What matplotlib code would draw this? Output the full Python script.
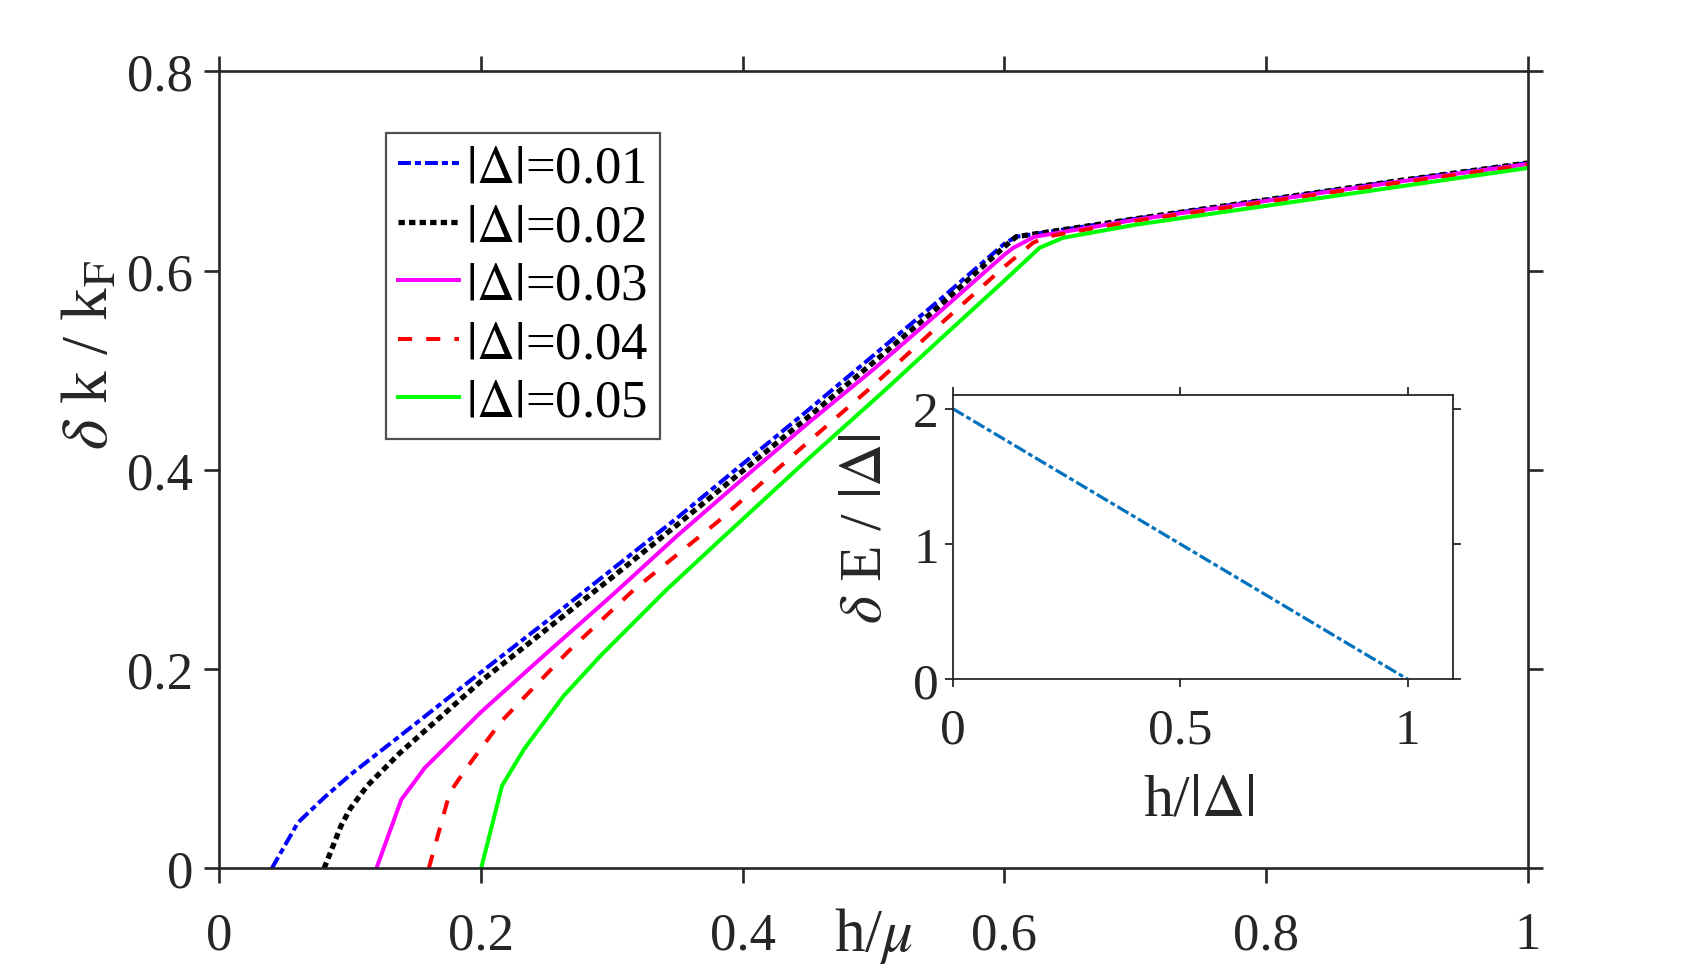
import matplotlib
matplotlib.use('Agg')
import matplotlib.pyplot as plt

plt.rcParams['font.family'] = ['Liberation Serif', 'DejaVu Serif']
plt.rcParams['mathtext.fontset'] = 'stix'

# curves: h/mu versus delta k / k_F
h_001 = [0.04, 0.06, 0.08, 0.10, 0.138, 0.20, 0.25, 0.30, 0.35, 0.40, 0.45, 0.50, 0.55, 0.60, 0.609, 0.70, 0.80, 0.90, 1.00]
k_001 = [0.000, 0.046, 0.071, 0.094, 0.133, 0.197, 0.248, 0.300, 0.352, 0.406, 0.460, 0.515, 0.570, 0.627, 0.634, 0.652, 0.671, 0.690, 0.708]

h_002 = [0.08, 0.093, 0.10, 0.113, 0.138, 0.20, 0.25, 0.30, 0.35, 0.40, 0.45, 0.50, 0.55, 0.60, 0.609, 0.70, 0.80, 0.90, 1.00]
k_002 = [0.000, 0.043, 0.060, 0.083, 0.116, 0.188, 0.240, 0.292, 0.345, 0.399, 0.453, 0.508, 0.564, 0.624, 0.634, 0.652, 0.671, 0.690, 0.708]

h_003 = [0.12, 0.139, 0.157, 0.20, 0.25, 0.30, 0.35, 0.40, 0.45, 0.50, 0.55, 0.60, 0.607, 0.623, 0.70, 0.80, 0.90, 1.00]
k_003 = [0.000, 0.069, 0.101, 0.157, 0.216, 0.274, 0.334, 0.391, 0.447, 0.501, 0.558, 0.616, 0.623, 0.634, 0.651, 0.670, 0.689, 0.707]

h_004 = [0.16, 0.176, 0.189, 0.215, 0.25, 0.266, 0.317, 0.38, 0.45, 0.50, 0.55, 0.60, 0.622, 0.632, 0.70, 0.80, 0.90, 1.00]
k_004 = [0.000, 0.076, 0.101, 0.147, 0.195, 0.217, 0.280, 0.347, 0.428, 0.485, 0.545, 0.604, 0.628, 0.634, 0.650, 0.669, 0.688, 0.706]

h_005 = [0.20, 0.216, 0.233, 0.263, 0.291, 0.342, 0.383, 0.45, 0.507, 0.55, 0.60, 0.627, 0.645, 0.70, 0.80, 0.90, 1.00]
k_005 = [0.000, 0.083, 0.120, 0.173, 0.213, 0.280, 0.330, 0.411, 0.478, 0.530, 0.590, 0.623, 0.633, 0.646, 0.665, 0.684, 0.703]

# inset: h/|Delta| versus delta E / |Delta|
inset_h = [0.0, 0.25, 0.5, 0.75, 1.0]
inset_e = [2.0, 1.5, 1.0, 0.5, 0.0]

x_ticks = [0, 0.2, 0.4, 0.6, 0.8, 1.0]
x_tick_labels = ['0', '0.2', '0.4', '0.6', '0.8', '1']
y_ticks = [0, 0.2, 0.4, 0.6, 0.8]
y_tick_labels = ['0', '0.2', '0.4', '0.6', '0.8']
inset_x_ticks = [0, 0.5, 1.0]
inset_x_labels = ['0', '0.5', '1']
inset_y_ticks = [0, 1, 2]
inset_y_labels = ['0', '1', '2']

axis_color = '#262626'

fig = plt.figure(figsize=(16.88, 9.78), dpi=100)
ax = fig.add_axes([0.130, 0.111, 0.775, 0.815])

lw = 2.9
ax.plot(h_001, k_001, color='#0000ff', lw=lw, linestyle=(0, (3.2, 1.0, 1.5, 1.0)), label=r'$|\Delta|$=0.01')
ax.plot(h_002, k_002, color='black', lw=3.8, linestyle=(0, (1.2, 0.8)), dash_capstyle='butt', label=r'$|\Delta|$=0.02')
ax.plot(h_003, k_003, color='#ff00ff', lw=lw, label=r'$|\Delta|$=0.03')
ax.plot(h_004, k_004, color='#ff0000', lw=lw, linestyle=(0, (3.5, 3.5)), label=r'$|\Delta|$=0.04')
ax.plot(h_005, k_005, color='#00ff00', lw=lw, label=r'$|\Delta|$=0.05')

ax.set_xlim(0, 1)
ax.set_ylim(0, 0.8)
ax.set_xticks(x_ticks)
ax.set_xticklabels(x_tick_labels)
ax.set_yticks(y_ticks)
ax.set_yticklabels(y_tick_labels)
for sp in ax.spines.values():
    sp.set_linewidth(1.9)
    sp.set_color(axis_color)
ax.tick_params(direction='out', length=11, width=1.9, colors=axis_color,
               labelsize=38, top=True, right=True)
ax.tick_params(axis='x', pad=20)
ax.tick_params(axis='y', pad=8)

ax.set_xlabel(r'h/$\mu$', fontsize=44, color=axis_color, va='top')
ax.xaxis.set_label_coords(0.5, -0.046)
ax.set_ylabel(r'$\delta$ k / k$_\mathrm{F}$', fontsize=47, color=axis_color)
ax.yaxis.set_label_coords(-0.075, 0.645)

leg = ax.legend(loc='upper left', bbox_to_anchor=(0.1275, 0.9226), borderaxespad=0,
                fontsize=38, frameon=True, fancybox=False, handlelength=1.15,
                handletextpad=0.15, borderpad=0.22, labelspacing=0.2)
leg.get_frame().set_edgecolor(axis_color)
leg.get_frame().set_linewidth(1.6)

# inset
ins = fig.add_axes([0.5644, 0.3043, 0.2966, 0.2907])
ins.plot(inset_h, inset_e, color='#0072BD', lw=2.3, linestyle=(0, (4.0, 1.0, 1.5, 1.0)))
ins.set_xlim(0, 1.1)
ins.set_ylim(0, 2.1)
ins.set_xticks(inset_x_ticks)
ins.set_xticklabels(inset_x_labels)
ins.set_yticks(inset_y_ticks)
ins.set_yticklabels(inset_y_labels)
for sp in ins.spines.values():
    sp.set_linewidth(1.3)
    sp.set_color(axis_color)
ins.tick_params(direction='out', length=6, width=1.3, colors=axis_color,
                labelsize=37, top=True, right=True)
ins.tick_params(axis='x', pad=14)
ins.tick_params(axis='y', pad=4)
ins.set_xlabel(r'h/$|\Delta|$', fontsize=43, color=axis_color, va='top')
ins.xaxis.set_label_coords(0.492, -0.33)
ins.set_ylabel(r'$\delta$ E / $|\Delta|$', fontsize=43, color=axis_color)
ins.yaxis.set_label_coords(-0.118, 0.535)

fig.savefig('out.png', dpi=100, facecolor='white')
